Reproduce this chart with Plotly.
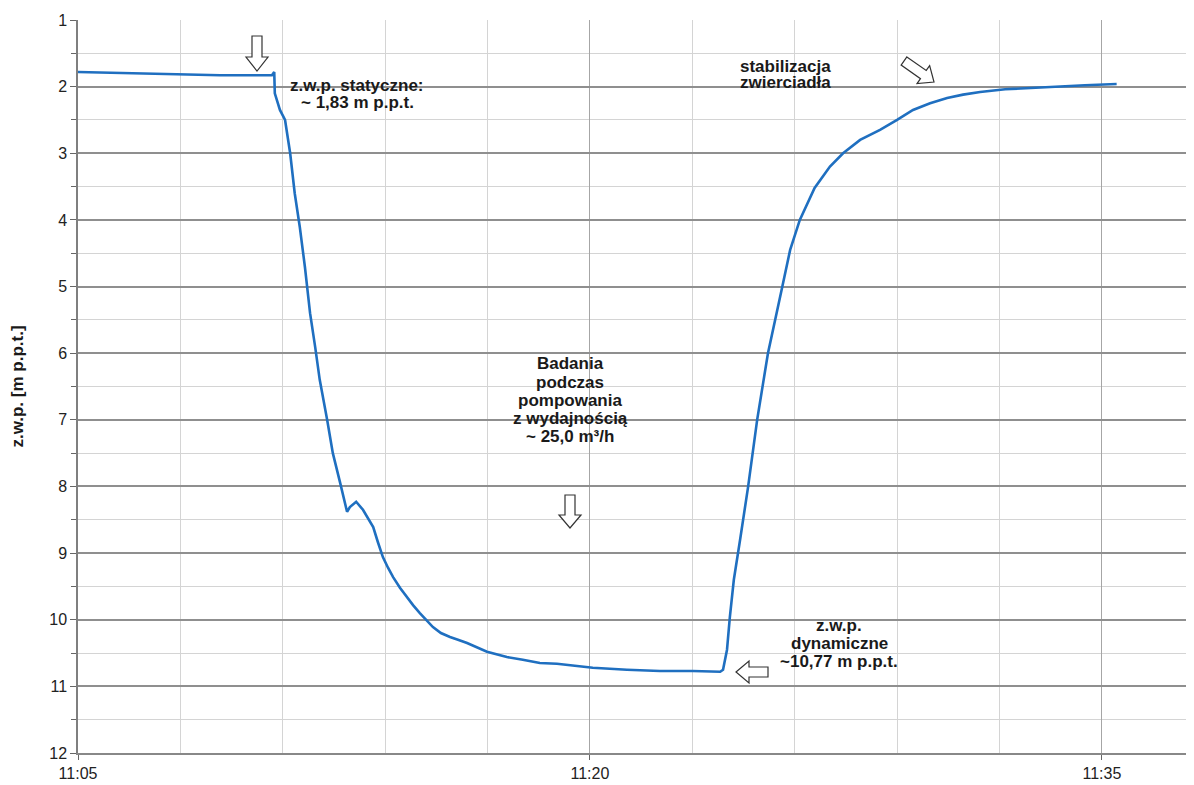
import math
import plotly.graph_objects as go

# ---- data ----
DAY = "2024-01-01"
times = ["11:05:00", "11:07:07", "11:09:10", "11:10:41", "11:10:45", "11:10:46", "11:10:55",
         "11:11:04", "11:11:09", "11:11:13", "11:11:21", "11:11:30", "11:11:39", "11:11:48",
         "11:11:57", "11:12:05", "11:12:18", "11:12:28", "11:12:41", "11:12:53", "11:12:58",
         "11:13:09", "11:13:21", "11:13:39", "11:13:47", "11:13:56", "11:14:05", "11:14:14",
         "11:14:26", "11:14:38", "11:14:49", "11:15:01", "11:15:24", "11:15:38", "11:15:54",
         "11:16:08", "11:16:24", "11:16:59", "11:17:34", "11:18:02", "11:18:32",
         "11:19:02", "11:19:30", "11:20:05", "11:21:05", "11:22:03", "11:23:01", "11:23:49",
         "11:23:54", "11:24:01", "11:24:06", "11:24:13", "11:24:24", "11:24:38", "11:24:54",
         "11:25:13", "11:25:38", "11:25:52", "11:26:09", "11:26:35", "11:27:02", "11:27:25",
         "11:27:55", "11:28:30", "11:29:00", "11:29:28", "11:29:58", "11:30:28", "11:30:56",
         "11:31:26", "11:32:10", "11:32:54", "11:33:29", "11:34:30", "11:35:26"]
depth = [1.78, 1.80, 1.83, 1.83, 1.78, 2.10, 2.35,
         2.50, 2.80, 3.00, 3.60, 4.11, 4.71, 5.40,
         5.91, 6.40, 7.00, 7.50, 7.95, 8.38, 8.31,
         8.23, 8.35, 8.61, 8.83, 9.06, 9.22, 9.36,
         9.52, 9.66, 9.78, 9.90, 10.11, 10.20, 10.26,
         10.30, 10.35, 10.48, 10.56, 10.60, 10.65,
         10.66, 10.69, 10.72, 10.75, 10.77, 10.77, 10.78,
         10.75, 10.45, 9.96, 9.40, 8.80, 8.01, 7.00,
         6.00, 5.01, 4.45, 4.00, 3.52, 3.20, 3.00,
         2.80, 2.65, 2.50, 2.35, 2.25, 2.17, 2.12,
         2.08, 2.04, 2.02, 2.00, 1.98, 1.96]

x_start = "11:05:00"
x_end = "11:37:42"
y_axis_title = "z.w.p. [m p.p.t.]"

label_static = ["z.w.p. statyczne:", "~ 1,83 m p.p.t."]
label_stab = ["stabilizacja", "zwierciadła"]
label_pump = ["Badania", "podczas", "pompowania", "z wydajnością", "~ 25,0 m³/h"]
label_dyn = ["z.w.p.", "dynamiczne", "~10,77 m p.p.t."]

# ---- layout geometry (pixels, in window coordinates; page body has an 8px margin) ----
OFF = 8
W, H = 1194, 785
L, T, R, B = 78, 20, 0, 32
PW, PH = W - L - R, H - T - B


def px(xp):
    return (xp - L) / PW


def py(yp):
    return (H - B - yp) / PH


FONT = "Liberation Sans, Arial, sans-serif"

fig = go.Figure()
fig.add_trace(go.Scatter(
    x=[f"{DAY} {t}" for t in times], y=depth, mode="lines",
    line=dict(color="#1f6fc0", width=2.6), showlegend=False, hoverinfo="skip"))


def poly(points):
    s = "M " + " L ".join(f"{px(a):.5f},{py(b):.5f}" for a, b in points) + " Z"
    return dict(type="path", xref="paper", yref="paper", path=s,
                fillcolor="white", line=dict(color="#333333", width=1.2), layer="above")


shapes = []
# down arrows
for cx, top, base, tip in [(257, 36, 57, 71), (570, 495, 515, 528)]:
    shapes.append(poly([(cx - 5, top), (cx + 5, top), (cx + 5, base), (cx + 11, base),
                        (cx, tip), (cx - 11, base), (cx - 5, base)]))
# left arrow
shapes.append(poly([(736, 672), (749, 661), (749, 667), (768, 667), (768, 677),
                    (749, 677), (749, 683)]))
# diagonal arrow (down-right)
tx, ty, qx, qy = 904, 61, 934, 82
d = math.hypot(qx - tx, qy - ty)
ux, uy = (qx - tx) / d, (qy - ty) / d
nx, ny = -uy, ux
bx, by = qx - 13 * ux, qy - 13 * uy
shapes.append(poly([(tx - 5 * nx, ty - 5 * ny), (bx - 5 * nx, by - 5 * ny),
                    (bx - 11 * nx, by - 11 * ny), (qx, qy), (bx + 11 * nx, by + 11 * ny),
                    (bx + 5 * nx, by + 5 * ny), (tx + 5 * nx, ty + 5 * ny)]))

annotations = []


def text_block(lines, cx, y0, step):
    for i, s in enumerate(lines):
        annotations.append(dict(
            xref="paper", yref="paper", x=px(cx), y=py(y0 + i * step), text=f"<b>{s}</b>",
            showarrow=False, xanchor="center", yanchor="middle",
            font=dict(family=FONT, size=17, color="#1a1a1a")))


text_block(label_static, 357, 85, 17)
text_block(label_stab, 785, 66, 17)
text_block(label_pump, 570, 364, 18.2)
text_block(label_dyn, 839, 625, 18)

fig.update_layout(
    width=W - OFF, height=H - OFF,
    margin=dict(l=L - OFF, r=R, t=T - OFF, b=B, autoexpand=False),
    paper_bgcolor="white", plot_bgcolor="white",
    font=dict(family=FONT, size=16, color="#222222"),
    shapes=shapes, annotations=annotations,
    xaxis=dict(
        type="date", range=[f"{DAY} {x_start}", f"{DAY} {x_end}"],
        tick0=f"{DAY} {x_start}", dtick=15 * 60 * 1000, tickformat="%H:%M",
        showgrid=True, gridcolor="#a6a6a6", gridwidth=1.2,
        ticks="outside", ticklen=5, tickcolor="#666666",
        showline=True, linecolor="#888888", linewidth=1.5,
        zeroline=False,
        minor=dict(dtick=3 * 60 * 1000, tick0=f"{DAY} {x_start}", showgrid=True,
                   gridcolor="#d4d4d4", gridwidth=1, ticks=""),
        tickfont=dict(size=16, color="#222222"),
    ),
    yaxis=dict(
        range=[12, 1], dtick=1, tick0=1,
        showgrid=True, gridcolor="#8f8f8f", gridwidth=1.5,
        ticks="outside", ticklen=6, tickcolor="#666666",
        showline=True, linecolor="#7f7f7f", linewidth=1.5,
        zeroline=False,
        minor=dict(dtick=0.5, tick0=1, showgrid=True, gridcolor="#d4d4d4", gridwidth=1,
                   ticks="outside", ticklen=5, tickcolor="#666666"),
        tickfont=dict(size=16, color="#222222"),
        title=dict(text=f"<b>{y_axis_title}</b>", font=dict(size=17, color="#1a1a1a"),
                   standoff=22),
    ),
)

fig.write_html("out.html")
